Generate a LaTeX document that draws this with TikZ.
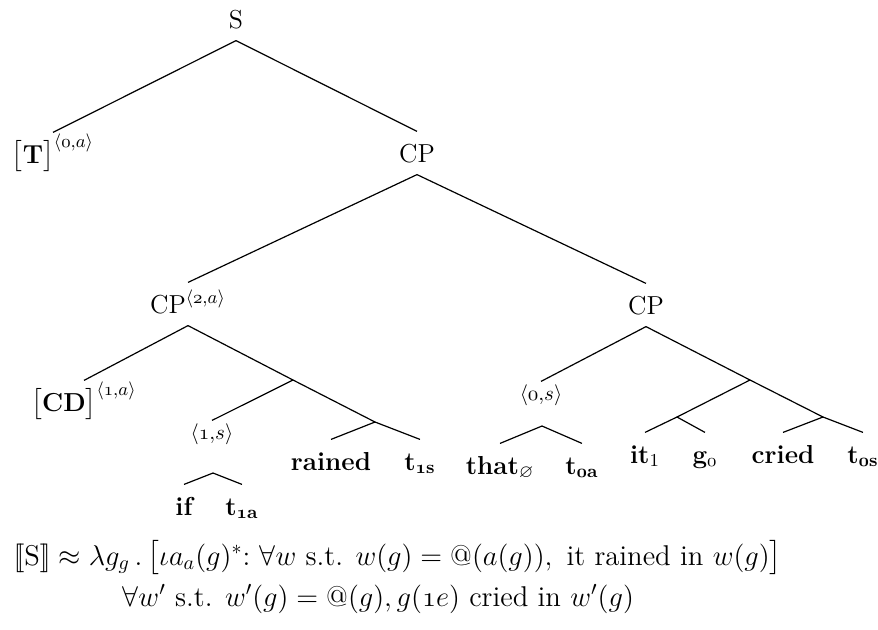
\RequirePackage{fix-cm}
\documentclass[tikz,border=0pt]{standalone}
\usepackage{amsmath,amssymb}
\usepackage{fontspec}
\newcommand{\dbl}{\mathopen{[\mkern-3mu[}}
\newcommand{\dbr}{\mathclose{]\mkern-3mu]}}
\newcommand{\osn}[1]{\ensuremath{\mathnormal{#1}}}

\begin{document}
\begin{tikzpicture}[x=0.5pt, y=-0.5pt, line width=0.6pt,
    every node/.style={font=\fontsize{13}{16}\selectfont, anchor=base},
    cat/.style={text height=9pt, text depth=0pt, inner ysep=6pt, inner xsep=0pt},
    idx/.style={text height=6pt, text depth=0pt, inner ysep=3pt, inner xsep=0pt, font=\fontsize{10.5}{12}\selectfont},
    leaf/.style={cat, font=\fontsize{13}{16}\selectfont\bfseries\boldmath},
    formula/.style={anchor=base west, inner sep=0pt, font=\fontsize{14.3}{17}\selectfont}]
  \useasboundingbox (0,0) rectangle (878,629);

  % --- top: S, [T], CP ---
  \node[cat] (S) at (236,28) {S};
  \node[cat] (T) at (53,163) {$\bigl[\textbf{T}\bigr]^{\langle\osn{0}{,}a\rangle}$};
  \node[cat] (CPa) at (417,162) {CP};
  \draw (S.south) -- (T.north);
  \draw (S.south) -- (CPa.north);

  % --- the two CPs ---
  \node[cat] (CPb) at (188,313) {CP$^{\langle\osn{2}{,}a\rangle}$};
  \node[cat] (CPc) at (646,314) {CP};
  \draw (CPa.south) -- (CPb.north);
  \draw (CPa.south) -- (CPc.north);

  % --- left CP: [CD], if t, rained t ---
  \node[cat] (CD) at (84,411) {$\bigl[\textbf{CD}\bigr]^{\langle\osn{1}{,}a\rangle}$};
  \coordinate (X1) at (293,380);
  \coordinate (X2) at (375,422);
  \node[idx] (s1) at (212,439) {$\langle\osn{1}{,}s\rangle$};
  \coordinate (s1b) at (213,473);
  \node[leaf] (if) at (184,515) {if};
  \node[leaf] (t1a) at (242,515) {t\textsubscript{\osn{1}a}};
  \node[leaf] (rained) at (331,470) {rained};
  \node[leaf] (t1s) at (420,470) {t\textsubscript{\osn{1}s}};
  \draw (CPb.south) -- (CD.north);
  \draw (CPb.south) -- (X1);
  \draw (X1) -- (s1.north);
  \draw (X1) -- (X2);
  \draw (X2) -- (rained.north);
  \draw (X2) -- (t1s.north);
  \draw (s1b) -- (if.north);
  \draw (s1b) -- (t1a.north);

  % --- right CP: that t, it g, cried t ---
  \node[idx] (s0) at (541,400) {$\langle\osn{0}{,}s\rangle$};
  \coordinate (s0b) at (542,426);
  \node[leaf] (that) at (500,474) {that$_\varnothing$};
  \node[leaf] (t0a) at (582,474) {t\textsubscript{\osn{0}a}};
  \coordinate (Y1) at (750,380);
  \coordinate (Y2) at (677,417);
  \coordinate (Y3) at (823,417);
  \node[leaf] (it) at (645,463) {it\textsubscript{\mdseries 1}};
  \node[leaf] (g0) at (705,463) {g\textsubscript{\unboldmath\osn{0}}};
  \node[leaf] (cried) at (783,463) {cried};
  \node[leaf] (t0s) at (863,463) {t\textsubscript{\osn{0}s}};
  \draw (CPc.south) -- (s0.north);
  \draw (CPc.south) -- (Y1);
  \draw (s0b) -- (that.north);
  \draw (s0b) -- (t0a.north);
  \draw (Y1) -- (Y2);
  \draw (Y1) -- (Y3);
  \draw (Y2) -- (it.north);
  \draw (Y2) -- (g0.north);
  \draw (Y3) -- (cried.north);
  \draw (Y3) -- (t0s.north);

  % --- denotation ---
  \node[formula] (f1) at (13,565)
    {$\dbl\text{S}\dbr \approx \lambda g_g\,.\,\bigl[\iota a_a(g)^*{:}\ \forall w \text{ s.t. } w(g) = \text{@}(a(g)), \text{ it rained in } w(g)\bigr]$};
  \node[formula] (f2) at (122,606)
    {$\forall w' \text{ s.t. } w'(g) = \text{@}(g), g(\mathnormal{1}e) \text{ cried in } w'(g)$};
\end{tikzpicture}
\end{document}
